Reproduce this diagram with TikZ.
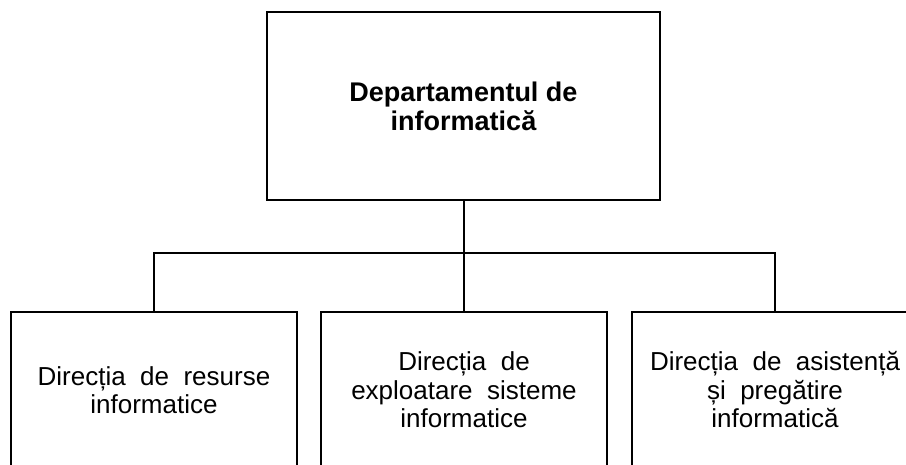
\documentclass[tikz,border=0pt]{standalone}
\usepackage{fontspec}
\setmainfont{Liberation Sans}
\begin{document}
\begin{tikzpicture}[x=1pt,y=-1pt,
  box/.style={draw=black, line width=1.1pt, inner sep=0pt, align=center,
    font=\fontsize{26}{28.5}\selectfont},
  conn/.style={draw=black, line width=1.1pt}]
\useasboundingbox (0,0) rectangle (906,464);
\begin{scope}
\clip (0,0) rectangle (906,464);
\node[box, minimum width=393pt, minimum height=188pt, font=\fontsize{27}{29}\selectfont\bfseries]
  (top) at (463.5,106) {Departamentul de\\informatică};
\node[box, minimum width=286pt, minimum height=156pt] (left) at (154,390)
  {Direcția \ de \ resurse\\informatice};
\node[box, minimum width=286pt, minimum height=156pt] (mid) at (464,390)
  {Direcția \ de\\exploatare \ sisteme\\informatice};
\node[box, minimum width=286pt, minimum height=156pt] (right) at (775,390)
  {Direcția \ de \ asistență\\și \ pregătire\\informatică};
\coordinate (bar) at (464,253);
\draw[conn] (mid.north |- top.south) -- (mid.north);
\draw[conn] (left.north) |- (right.north |- bar) -- (right.north);
\end{scope}
\end{tikzpicture}
\end{document}
